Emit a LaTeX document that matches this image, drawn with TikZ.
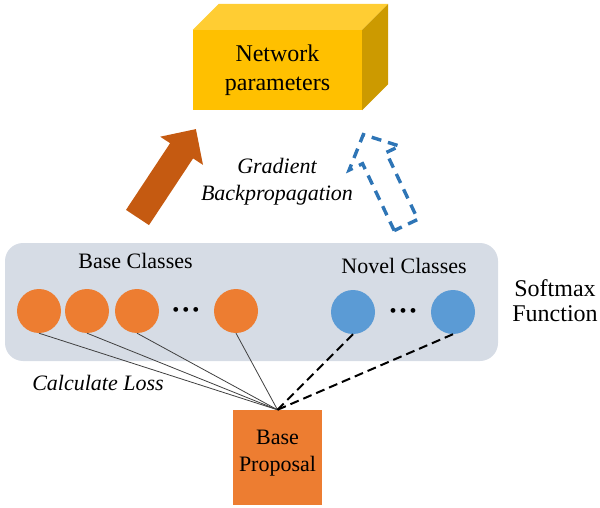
\documentclass[tikz,border=0pt]{standalone}
\usepackage{fontspec}
\setmainfont{Liberation Serif}
\usetikzlibrary{calc}
\definecolor{gold}{HTML}{FFC000}
\definecolor{goldtop}{HTML}{FFCD33}
\definecolor{goldside}{HTML}{CC9A00}
\definecolor{panel}{HTML}{D6DCE5}
\definecolor{orng}{HTML}{ED7D31}
\definecolor{darkorng}{HTML}{C55A11}
\definecolor{blu}{HTML}{5B9BD5}
\definecolor{dblu}{HTML}{2E75B6}
\definecolor{lossgray}{HTML}{404040}
\begin{document}
\begin{tikzpicture}[x=1pt,y=-1pt,
  txt/.style={inner sep=0pt, align=center, font=\fontsize{22}{27}\selectfont},
  bigtxt/.style={inner sep=0pt, align=center, font=\fontsize{24}{29}\selectfont},
  cls/.style={circle, minimum size=44pt, inner sep=0pt},
  dots/.style={inner sep=0pt, font=\fontsize{20}{24}\selectfont},
  loss/.style={draw=lossgray, line width=0.8pt},
  novel/.style={draw=black, line width=2pt, dash pattern=on 9pt off 5pt},
  backprop/.style={draw=dblu, line width=3.4pt, dash pattern=on 10pt off 7pt},
]
\useasboundingbox (0,0) rectangle (600,508);

% network parameters block
\node[bigtxt, fill=gold, minimum width=169pt, minimum height=80pt] (np) at (277.5,70) {Network\\parameters};
\fill[goldtop] (np.north west) -- ($(np.north west)+(26,-26)$) -- ($(np.north east)+(26,-26)$) -- (np.north east) -- cycle;
\fill[goldside] (np.north east) -- ($(np.north east)+(26,-26)$) -- ($(np.south east)+(26,-26)$) -- (np.south east) -- cycle;

% forward arrow
\fill[darkorng] (126,209.9) -- (170.1,143.2) -- (160.2,136.7) -- (195.9,129.1) -- (203,164.9) -- (193.1,158.4) -- (149,225.1) -- cycle;

% gradient label
\node[txt, font=\fontsize{22}{27}\selectfont\itshape] (grad) at (277,181.4) {Gradient\\Backpropagation};

% dashed backprop arrow
\draw[backprop] (394.2,230.6) -- (362.6,163.7) -- (349.1,170.1) -- (363.3,134.6) -- (399.7,146.1) -- (386.2,152.5) -- (417.8,219.4) -- cycle;

% softmax panel
\fill[panel, rounded corners=18pt] (5,243) rectangle (498,361);
\node[txt, anchor=base] (basec) at (135.5,268) {Base Classes};
\node[txt, anchor=base] (novelc) at (404,273) {Novel Classes};
\node[bigtxt, font=\fontsize{24}{25}\selectfont] (soft) at (555,301) {Softmax\\Function};

\node[cls, fill=orng] (o1) at (39,311) {};
\node[cls, fill=orng] (o2) at (87,311) {};
\node[cls, fill=orng] (o3) at (137,311) {};
\node[dots] (od) at (186,312) {\textbullet\hspace{3pt}\textbullet\hspace{3pt}\textbullet};
\node[cls, fill=orng] (o4) at (236,311) {};
\node[cls, fill=blu] (n1) at (353,312) {};
\node[dots] (nd) at (403,313) {\textbullet\hspace{3pt}\textbullet\hspace{3pt}\textbullet};
\node[cls, fill=blu] (n2) at (453,312) {};

% base proposal
\node[fill=orng, minimum width=89pt, minimum height=95pt, inner sep=0pt] (bp) at (277.5,457.5) {};
\node[txt] (bpt) at (277.5,453.6) {Base\\Proposal};

\node[txt, font=\fontsize{22}{27}\selectfont\itshape, anchor=base] (calc) at (98,390) {Calculate Loss};

% connectors
\draw[loss] (o1.south) -- (bp.north);
\draw[loss] (o2.south) -- (bp.north);
\draw[loss] (o3.south) -- (bp.north);
\draw[loss] (o4.south) -- (bp.north);
\draw[novel] (n1.south) -- (bp.north);
\draw[novel] (n2.south) -- (bp.north);
\end{tikzpicture}
\end{document}
